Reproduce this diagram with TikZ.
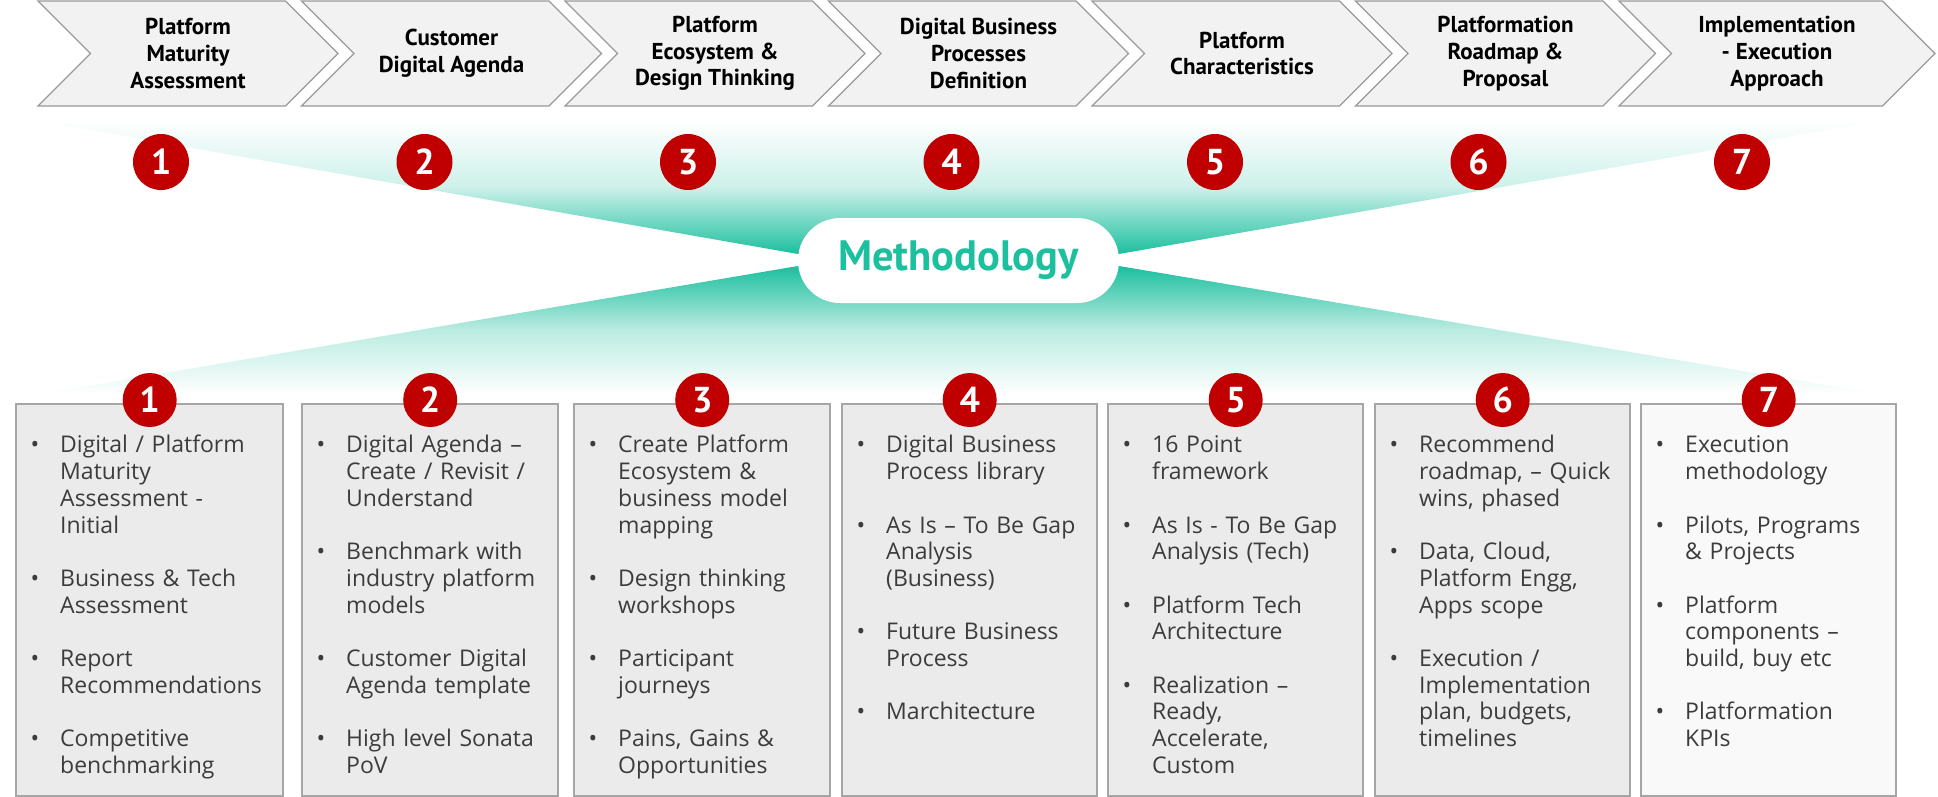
\documentclass[tikz,border=0pt]{standalone}
\usepackage{fontspec}
\setmainfont{Open Sans}
\newfontfamily\headfont{PT Sans}
\usetikzlibrary{shapes.symbols}
\definecolor{methteal}{HTML}{1CBF9E}
\definecolor{badgered}{HTML}{C00000}
\definecolor{chevfill}{HTML}{F2F2F2}
\definecolor{chevline}{HTML}{9A9A9A}
\definecolor{boxfill}{HTML}{EBEBEB}
\definecolor{boxline}{HTML}{A6A6A6}
\definecolor{bodytext}{HTML}{3C3C3C}
\newcommand{\pitem}[1]{\par\noindent\strut\llap{\textbullet\hspace{21pt}}#1\par\vskip 26.7pt}

\begin{document}
\begin{tikzpicture}[x=1pt,y=-1pt,
  chevron/.style={signal, signal from=west, signal to=east, signal pointer angle=90,
    draw=chevline, fill=chevfill, line width=1.2pt, minimum height=105pt, inner sep=0pt,
    align=center, font=\headfont\bfseries\fontsize{23}{26.7}\selectfont},
  badge/.style={circle, fill=badgered, text=white, inner sep=0pt, minimum size=56pt,
    font=\headfont\bfseries\fontsize{36}{36}\selectfont},
  listbox/.style={draw=boxline, fill=boxfill, line width=2.4pt, minimum height=392pt,
    inner sep=0pt, anchor=north west},
  listtext/.style={anchor=north west, inner sep=0pt, text width=250pt, align=left,
    text=bodytext, font=\fontsize{23}{26.7}\selectfont}]
\useasboundingbox (0,0) rectangle (1938,796);

% fans behind the label
\shade[top color=white, bottom color=methteal, middle color=methteal!22]
  (32,120) -- (1885,120) -- (1119,254) -- (798,254) -- cycle;
\shade[top color=methteal, bottom color=white, middle color=methteal!30]
  (798,266) -- (1119,266) -- (1880,394) -- (40,394) -- cycle;
\node[fill=white, rounded corners=42pt, minimum width=321pt, minimum height=85pt,
  text=methteal, font=\headfont\bfseries\fontsize{42.5}{42.5}\selectfont] (method) at (958.5,260.5) {Methodology};

% phases
\node[chevron, minimum width=300pt] (phase1) at (188,53.5) {Platform\\Maturity\\Assessment};
\node[chevron, minimum width=300pt] (phase2) at (451.5,53.5) {Customer\\Digital Agenda};
\node[chevron, minimum width=300pt] (phase3) at (715,53.5) {Platform\\Ecosystem \&\\Design Thinking};
\node[chevron, minimum width=300pt] (phase4) at (978.5,53.5) {Digital Business\\Processes\\Definition};
\node[chevron, minimum width=300pt] (phase5) at (1242,53.5) {Platform\\Characteristics};
\node[chevron, minimum width=300pt] (phase6) at (1505.5,53.5) {Platformation\\Roadmap \&\\Proposal};
\node[chevron, minimum width=316pt] (phase7) at (1777,53.5) {Implementation\\- Execution\\Approach};

\foreach \i in {1,...,7}
  \node[badge] (top\i) at ({161+(\i-1)*263.5},162) {\i};

% detail boxes
\foreach \l/\r/\i in {15/282/1,301/557/2,573/829/3,841/1096/4,1107/1362/5,1374/1629/6}
  \node[listbox, minimum width={(\r-\l)*1pt}] (box\i) at (\l,403) {};
\node[listbox, fill=boxfill!30, minimum width=255pt] (box7) at (1640,403) {};
\foreach \i in {1,...,7}
  \node[badge, minimum size=54pt] (low\i) at ([yshift=3pt]box\i.north) {\i};

\node[listtext] (list1) at ([xshift=45pt,yshift=-23pt]box1.north west) {%
  \pitem{Digital / Platform\newline Maturity\newline Assessment -\newline Initial}
  \pitem{Business \& Tech\newline Assessment}
  \pitem{Report\newline Recommendations}
  \pitem{Competitive\newline benchmarking}};
\node[listtext] (list2) at ([xshift=45pt,yshift=-23pt]box2.north west) {%
  \pitem{Digital Agenda –\newline Create / Revisit /\newline Understand}
  \pitem{Benchmark with\newline industry platform\newline models}
  \pitem{Customer Digital\newline Agenda template}
  \pitem{High level Sonata\newline PoV}};
\node[listtext] (list3) at ([xshift=45pt,yshift=-23pt]box3.north west) {%
  \pitem{Create Platform\newline Ecosystem \&\newline business model\newline mapping}
  \pitem{Design thinking\newline workshops}
  \pitem{Participant\newline journeys}
  \pitem{Pains, Gains \&\newline Opportunities}};
\node[listtext] (list4) at ([xshift=45pt,yshift=-23pt]box4.north west) {%
  \pitem{Digital Business\newline Process library}
  \pitem{As Is – To Be Gap\newline Analysis\newline (Business)}
  \pitem{Future Business\newline Process}
  \pitem{Marchitecture}};
\node[listtext] (list5) at ([xshift=45pt,yshift=-23pt]box5.north west) {%
  \pitem{16 Point\newline framework}
  \pitem{As Is - To Be Gap\newline Analysis (Tech)}
  \pitem{Platform Tech\newline Architecture}
  \pitem{Realization –\newline Ready,\newline Accelerate,\newline Custom}};
\node[listtext] (list6) at ([xshift=45pt,yshift=-23pt]box6.north west) {%
  \pitem{Recommend\newline roadmap, – Quick\newline wins, phased}
  \pitem{Data, Cloud,\newline Platform Engg,\newline Apps scope}
  \pitem{Execution /\newline Implementation\newline plan, budgets,\newline timelines}};
\node[listtext] (list7) at ([xshift=45pt,yshift=-23pt]box7.north west) {%
  \pitem{Execution\newline methodology}
  \pitem{Pilots, Programs\newline \& Projects}
  \pitem{Platform\newline components –\newline build, buy etc}
  \pitem{Platformation\newline KPIs}};
\end{tikzpicture}
\end{document}
